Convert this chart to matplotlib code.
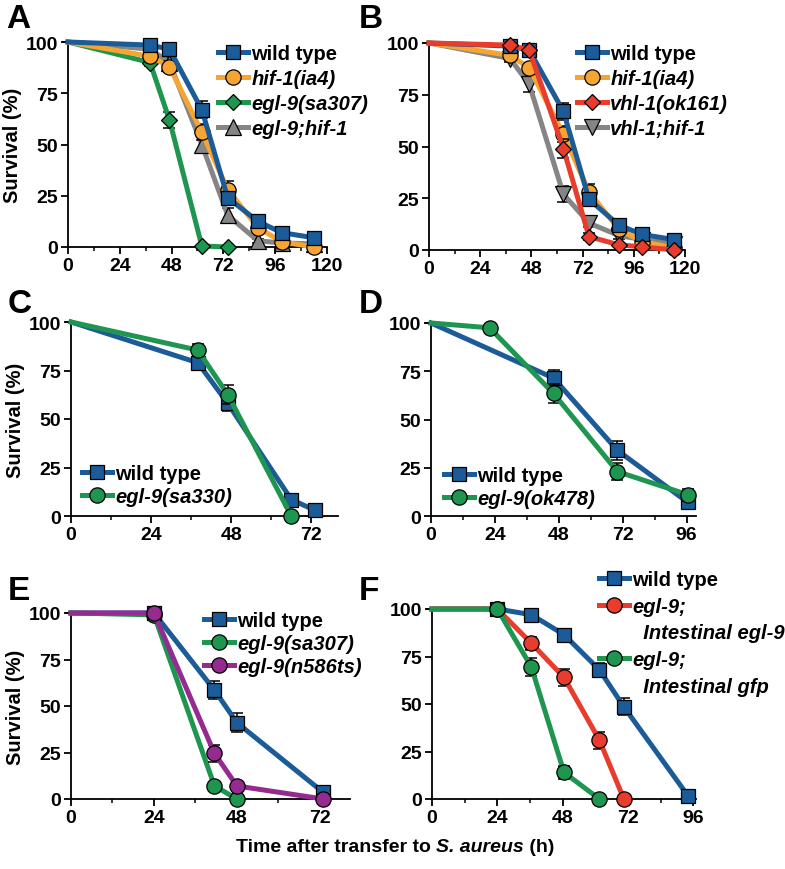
import matplotlib
matplotlib.use("Agg")
import matplotlib.pyplot as plt
from matplotlib.lines import Line2D
from matplotlib.ticker import MultipleLocator

plt.rcParams["font.family"] = ["Liberation Sans", "DejaVu Sans"]
plt.rcParams["font.weight"] = "bold"

W, H = 785, 870

BLUE = "#1b5b97"
ORANGE = "#f6a533"
GREEN = "#1f9650"
GRAY = "#858585"
RED = "#e83c2c"
PURPLE = "#952b91"

# ---- panel A ----
A_t = [0, 38, 47, 62, 74, 88, 99, 114]
A_wt = [100, 98.5, 96.5, 67, 24, 12.5, 7, 4.5]
A_wt_err = [0, 1, 1.5, 4, 3, 2, 1.5, 1]
A_hif = [100, 93, 88, 56, 28, 9.5, 2.5, 0]
A_hif_err = [0, 2, 2.5, 4, 4, 2, 1, 0]
A_egl_t = [0, 38, 47, 62, 74]
A_egl = [100, 90, 62, 0.5, 0]
A_egl_err = [0, 1.5, 4, 0, 0]
A_dbl = [100, 96.5, 90, 50, 15.5, 3, 2, 1.5]
A_dbl_err = [0, 1.5, 2, 4, 3.5, 1, 1, 0.5]

# ---- panel B ----
B_t = [0, 38, 47, 63, 75, 89, 100, 115]
B_wt = [100, 98.5, 96.5, 67, 24.5, 12, 7.5, 5]
B_wt_err = [0, 1, 1.5, 4, 3, 2, 1.5, 1]
B_hif = [100, 94, 88, 56, 28, 10, 4, 1]
B_hif_err = [0, 2, 2.5, 4, 4, 2, 1, 0]
B_vhl = [100, 99, 96.5, 49, 6.5, 2.5, 1.5, 0]
B_vhl_err = [0, 1, 1, 4.5, 1.5, 1, 0.5, 0]
B_dbl = [100, 92.5, 80, 27, 13, 7, 5, 3]
B_dbl_err = [0, 1.5, 3.5, 4, 2, 1.5, 1, 0.5]

# ---- panel C ----
C_wt_t = [0, 38, 47, 66, 73]
C_wt = [100, 79, 58, 8.5, 3]
C_wt_err = [0, 3, 4, 1, 0.5]
C_egl_t = [0, 38, 47, 66]
C_egl = [100, 85.5, 62.5, 0]
C_egl_err = [0, 3, 5, 0]

# ---- panel D ----
D_wt_t = [0, 46, 70, 96.5]
D_wt = [100, 71.5, 34, 7]
D_wt_err = [0, 4, 5, 2]
D_egl_t = [0, 22, 46, 70, 96.5]
D_egl = [100, 97.5, 63.5, 23, 11]
D_egl_err = [0, 1, 5, 4.5, 3]

# ---- panel E ----
E_wt_t = [0, 24, 41.5, 48, 73]
E_wt = [100, 100, 58.5, 41, 3.5]
E_wt_err = [0, 1, 5, 5, 1]
E_sa_t = [0, 24, 41.5, 48]
E_sa = [100, 99, 7, 0]
E_sa_err = [0, 0, 1, 0]
E_ts_t = [0, 24, 41.5, 48, 73]
E_ts = [100, 100, 24.5, 7, 0]
E_ts_err = [0, 0, 4.5, 1, 0]

# ---- panel F ----
F_wt_t = [0, 24, 36.5, 48.5, 61.5, 70.5, 94]
F_wt = [100, 100, 97, 86.5, 68, 48.5, 1.8]
F_wt_err = [0, 0, 1.5, 2, 3.5, 4.5, 0.5]
F_int_t = [0, 24, 36.5, 48.5, 61.5, 70.5]
F_int = [100, 100, 82, 64, 31, 0]
F_int_err = [0, 0, 3.5, 4.5, 4.5, 0]
F_gfp_t = [0, 24, 36.5, 48.5, 61.5]
F_gfp = [100, 100, 69.5, 14, 0]
F_gfp_err = [0, 0, 4.5, 3.5, 0]
F_labels = ["wild type", "egl-9;", "  Intestinal egl-9", "egl-9;", "  Intestinal gfp"]


def px_axes(left, top, right, bottom):
    return [left / W, 1 - bottom / H, (right - left) / W, (bottom - top) / H]


def style_axes(ax, xmax, ylabel):
    ax.set_xlim(0, xmax)
    ax.set_ylim(0, 100)
    ax.set_xticks(range(0, int(xmax) + 1, 24))
    ax.xaxis.set_minor_locator(MultipleLocator(12))
    ax.set_yticks([0, 25, 50, 75, 100])
    for s in ("top", "right"):
        ax.spines[s].set_visible(False)
    for s in ("left", "bottom"):
        ax.spines[s].set_linewidth(1.3)
    ax.tick_params(which="major", direction="out", length=5, width=1.3,
                   labelsize=14, pad=2)
    ax.tick_params(which="minor", direction="out", length=3, width=1.1)
    for lab in ax.get_xticklabels() + ax.get_yticklabels():
        lab.set_fontweight("bold")
    if ylabel:
        ax.set_ylabel("Survival (%)", fontsize=14.5, fontweight="bold", labelpad=3)


def series(ax, t, y, err, color, marker, ms, label, z):
    ax.errorbar(t, y, yerr=err, fmt="none", ecolor="black", elinewidth=1.1,
                capsize=4, capthick=1.1, zorder=z - 0.5, clip_on=False)
    # no marker on the t = 0 starting point
    line, = ax.plot(t, y, color=color, lw=3.6, marker=marker, ms=ms,
                    markevery=list(range(1, len(t))),
                    mfc=color, mec="black", mew=0.9, label=label, zorder=z,
                    clip_on=False, solid_joinstyle="round")
    return line


def legend(ax, handles, labels, x, y, italics, spacing=0.3):
    leg = ax.legend(handles=handles, labels=labels, loc="upper left",
                    bbox_to_anchor=(x / W, 1 - y / H),
                    bbox_transform=ax.figure.transFigure,
                    frameon=False, fontsize=14.5, handlelength=1.5,
                    handletextpad=0.15, labelspacing=spacing, borderpad=0,
                    borderaxespad=0)
    for txt, it in zip(leg.get_texts(), italics):
        txt.set_fontweight("bold")
        if it:
            txt.set_fontstyle("italic")
    return leg


fig = plt.figure(figsize=(W / 100, H / 100), dpi=100)
fig.patch.set_facecolor("white")

# A
ax = fig.add_axes(px_axes(68, 43, 327, 248))
style_axes(ax, 120, True)
h1 = series(ax, A_t, A_dbl, A_dbl_err, GRAY, "^", 11, "egl-9;hif-1", 3)
h2 = series(ax, A_egl_t, A_egl, A_egl_err, GREEN, "D", 8, "egl-9(sa307)", 4)
h3 = series(ax, A_t, A_hif, A_hif_err, ORANGE, "o", 11, "hif-1(ia4)", 5)
h4 = series(ax, A_t, A_wt, A_wt_err, BLUE, "s", 10.5, "wild type", 6)
legend(ax, [h4, h3, h2, h1], None, 218, 45, [False, True, True, True])

# B
ax = fig.add_axes(px_axes(429, 44, 685, 251))
style_axes(ax, 120, False)
h1 = series(ax, B_t, B_dbl, B_dbl_err, GRAY, "v", 11, "vhl-1;hif-1", 3)
h2 = series(ax, B_t, B_hif, B_hif_err, ORANGE, "o", 11, "hif-1(ia4)", 4)
h3 = series(ax, B_t, B_wt, B_wt_err, BLUE, "s", 10.5, "wild type", 5)
h4 = series(ax, B_t, B_vhl, B_vhl_err, RED, "D", 8, "vhl-1(ok161)", 6)
legend(ax, [h3, h2, h4, h1], None, 577, 45, [False, True, True, True])

# C
ax = fig.add_axes(px_axes(71, 323, 338, 517))
style_axes(ax, 80, True)
h1 = series(ax, C_wt_t, C_wt, C_wt_err, BLUE, "s", 10.5, "wild type", 4)
h2 = series(ax, C_egl_t, C_egl, C_egl_err, GREEN, "o", 11, "egl-9(sa330)", 5)
legend(ax, [h1, h2], None, 82, 465, [False, True], spacing=0.2)

# D
ax = fig.add_axes(px_axes(431, 324, 696, 517))
style_axes(ax, 99.5, False)
h1 = series(ax, D_wt_t, D_wt, D_wt_err, BLUE, "s", 10.5, "wild type", 4)
h2 = series(ax, D_egl_t, D_egl, D_egl_err, GREEN, "o", 11, "egl-9(ok478)", 5)
legend(ax, [h1, h2], None, 444, 467, [False, True], spacing=0.2)

# E
ax = fig.add_axes(px_axes(71, 614, 350, 800))
style_axes(ax, 80.7, True)
h1 = series(ax, E_wt_t, E_wt, E_wt_err, BLUE, "s", 10.5, "wild type", 4)
h2 = series(ax, E_sa_t, E_sa, E_sa_err, GREEN, "o", 11, "egl-9(sa307)", 5)
h3 = series(ax, E_ts_t, E_ts, E_ts_err, PURPLE, "o", 11, "egl-9(n586ts)", 6)
legend(ax, [h1, h2, h3], None, 204, 612, [False, True, True], spacing=0.2)

# F (two-line labels: the handle sits on the first line only)
ax = fig.add_axes(px_axes(432, 610, 696, 800))
style_axes(ax, 97, False)
h1 = series(ax, F_wt_t, F_wt, F_wt_err, BLUE, "s", 10.5, "wild type", 4)
h2 = series(ax, F_int_t, F_int, F_int_err, RED, "o", 11, "egl-9;", 5)
h3 = series(ax, F_gfp_t, F_gfp, F_gfp_err, GREEN, "o", 11, "egl-9;", 6)
blank = Line2D([], [], linestyle="none", marker="none")
legend(ax, [h1, h2, blank, h3, blank], F_labels,
       599, 571, [False, True, True, True, True], spacing=0.38)

# panel letters
for letter, x, y in [("A", 6, 4), ("B", 359, 4), ("C", 8, 289),
                     ("D", 359, 289), ("E", 8, 576), ("F", 359, 576)]:
    fig.text(x / W, 1 - y / H, letter, fontsize=24, fontweight="bold",
             ha="left", va="top")

# common x label with italic species name
parts = [("Time after transfer to ", "normal"), ("S. aureus", "italic"),
         (" (h)", "normal")]
fig.canvas.draw()
renderer = fig.canvas.get_renderer()
texts = []
for s, style in parts:
    texts.append(fig.text(0, 1 - 852 / H, s, fontsize=14, fontweight="bold",
                          fontstyle=style, ha="left", va="baseline"))
widths = [t.get_window_extent(renderer).width for t in texts]
x0 = 395 - sum(widths) / 2
for t, w in zip(texts, widths):
    t.set_x(x0 / W)
    x0 += w

fig.savefig("out.png", dpi=100)
